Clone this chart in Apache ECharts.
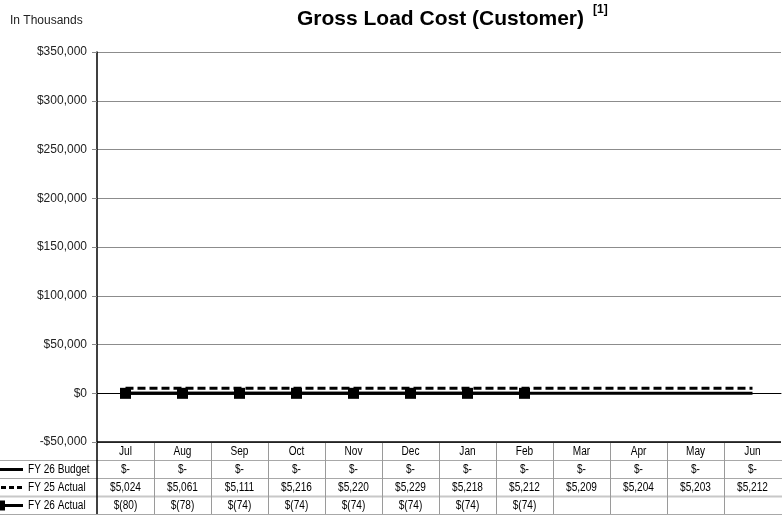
<!DOCTYPE html>
<html>
<head>
<meta charset="utf-8">
<script src="https://cdn.jsdelivr.net/npm/echarts@6/dist/echarts.min.js"></script>
<style>
  html, body { margin: 0; padding: 0; background: #fff; }
  #chart { width: 782px; height: 518px; }
</style>
</head>
<body>
<div id="chart"></div>
<script>
// Months of the fiscal year
const months = ['Jul', 'Aug', 'Sep', 'Oct', 'Nov', 'Dec', 'Jan', 'Feb', 'Mar', 'Apr', 'May', 'Jun'];

// Values in thousands of dollars
const fy26Budget = [0, 0, 0, 0, 0, 0, 0, 0, 0, 0, 0, 0];
const fy25Actual = [5024, 5061, 5111, 5216, 5220, 5229, 5218, 5212, 5209, 5204, 5203, 5212];
const fy26Actual = [-80, -78, -74, -74, -74, -74, -74, -74, null, null, null, null];

// Value axis ticks
const yMin = -50000, yMax = 350000, yStep = 50000;

const seriesNames = ['FY 26 Budget', 'FY 25 Actual', 'FY 26 Actual'];

const sans = '"Liberation Sans", Arial, sans-serif';
// condensed look for the table text
const narrowScale = 0.84;

function money(v) {
  if (v === null || v === undefined) return '';
  if (v === 0) return '$-';
  const s = Math.abs(v).toLocaleString('en-US');
  return v < 0 ? '$(' + s + ')' : '$' + s;
}

const chart = echarts.init(document.getElementById('chart'), null, { renderer: 'canvas' });

const option = {
  animation: false,
  backgroundColor: '#fff',
  grid: { left: 97, right: 1, top: 52, bottom: 76, containLabel: false },
  title: {
    text: 'Gross Load Cost (Customer)',
    left: 297, top: 9, padding: 0,
    textStyle: { fontFamily: sans, fontWeight: 'bold', fontSize: 21, color: '#000' }
  },
  xAxis: {
    type: 'category',
    data: months,
    boundaryGap: true,
    axisLine: { onZero: true, lineStyle: { color: '#000', width: 1 } },
    axisTick: { show: false },
    axisLabel: { show: false },
    splitLine: { show: false }
  },
  yAxis: {
    type: 'value',
    min: yMin, max: yMax, interval: yStep,
    axisLine: { show: true, lineStyle: { color: '#000', width: 1.5 } },
    axisTick: { show: true, length: 5, lineStyle: { color: '#888' } },
    axisLabel: {
      margin: 10,
      fontFamily: sans, fontSize: 12, color: '#222',
      formatter: function (v) {
        if (v === 0) return '$0';
        const s = Math.abs(v).toLocaleString('en-US');
        return v < 0 ? '-$' + s : '$' + s;
      }
    },
    splitLine: { show: true, lineStyle: { color: '#8c8c8c', width: 1 } }
  },
  series: [
    {
      name: seriesNames[0], type: 'line', data: fy26Budget,
      symbol: 'none', z: 3,
      lineStyle: { color: '#000', width: 3 }
    },
    {
      name: seriesNames[1], type: 'line', data: fy25Actual,
      symbol: 'none', z: 4,
      lineStyle: { color: '#000', width: 3, type: [8, 4] }
    },
    {
      name: seriesNames[2], type: 'line', data: fy26Actual,
      symbol: 'rect', symbolSize: 11, z: 5,
      itemStyle: { color: '#000' },
      lineStyle: { color: '#000', width: 3 }
    }
  ]
};

chart.setOption(option);

function narrowText(txt, x, y, align) {
  return {
    type: 'text', x: x, y: y, scaleX: narrowScale,
    style: { text: txt, font: '12px ' + sans, fill: '#000', align: align, verticalAlign: 'middle' }
  };
}

// Data table under the plot, aligned to the category bands
function buildTable() {
  const gridRect = chart.getModel().getComponent('grid', 0).coordinateSystem.getRect();
  const left = gridRect.x, right = gridRect.x + gridRect.width;
  const top = gridRect.y + gridRect.height;
  const band = gridRect.width / months.length;
  const rowH = 18;
  const rows = [top, top + rowH, top + 2 * rowH, top + 3 * rowH, top + 4 * rowH];
  const els = [];

  // superscript note mark next to the title
  els.push({ type: 'text', left: 593, top: 4,
    style: { text: '[1]', font: 'bold 12px ' + sans, fill: '#000' } });
  els.push({ type: 'text', left: 10, top: 15,
    style: { text: 'In Thousands', font: '12px ' + sans, fill: '#222' } });

  // horizontal rules
  els.push({ type: 'line', shape: { x1: left, y1: top, x2: right, y2: top },
    style: { stroke: '#000', lineWidth: 1.5 }, z: 10 });
  for (let r = 1; r < rows.length; r++) {
    els.push({ type: 'line', shape: { x1: 0, y1: rows[r] + 0.5, x2: 782, y2: rows[r] + 0.5 },
      style: { stroke: r === 3 ? '#c8c8c8' : '#a8a8a8', lineWidth: r === 3 ? 2 : 1 } });
  }
  // vertical rules
  els.push({ type: 'line', shape: { x1: left, y1: top, x2: left, y2: rows[4] },
    style: { stroke: '#000', lineWidth: 1.5 } });
  for (let i = 1; i < months.length; i++) {
    const x = Math.round(left + i * band) + 0.5;
    els.push({ type: 'line', shape: { x1: x, y1: top, x2: x, y2: rows[4] },
      style: { stroke: '#9a9a9a', lineWidth: 1 } });
  }

  const tableRows = [months, fy26Budget.map(money), fy25Actual.map(money), fy26Actual.map(money)];
  tableRows.forEach(function (vals, r) {
    vals.forEach(function (txt, i) {
      const cx = chart.convertToPixel({ xAxisIndex: 0 }, months[i]);
      els.push(narrowText(txt, cx, rows[r] + rowH / 2 + 1, 'center'));
    });
  });

  // series keys in the left column
  for (let s = 0; s < 3; s++) {
    const y = rows[s + 1] + rowH / 2 + 0.5;
    const lineStyle = { stroke: '#000', lineWidth: 3 };
    if (s === 1) lineStyle.lineDash = [5, 3];
    els.push({ type: 'line', shape: { x1: s === 1 ? 1 : -2, y1: y, x2: 23, y2: y }, style: lineStyle });
    if (s === 2) {
      els.push({ type: 'rect', shape: { x: -5, y: y - 5, width: 10, height: 10 }, style: { fill: '#000' } });
    }
    els.push(narrowText(seriesNames[s], 28, y + 0.5, 'left'));
  }
  chart.setOption({ graphic: { elements: els } });
}
buildTable();
</script>
</body>
</html>
